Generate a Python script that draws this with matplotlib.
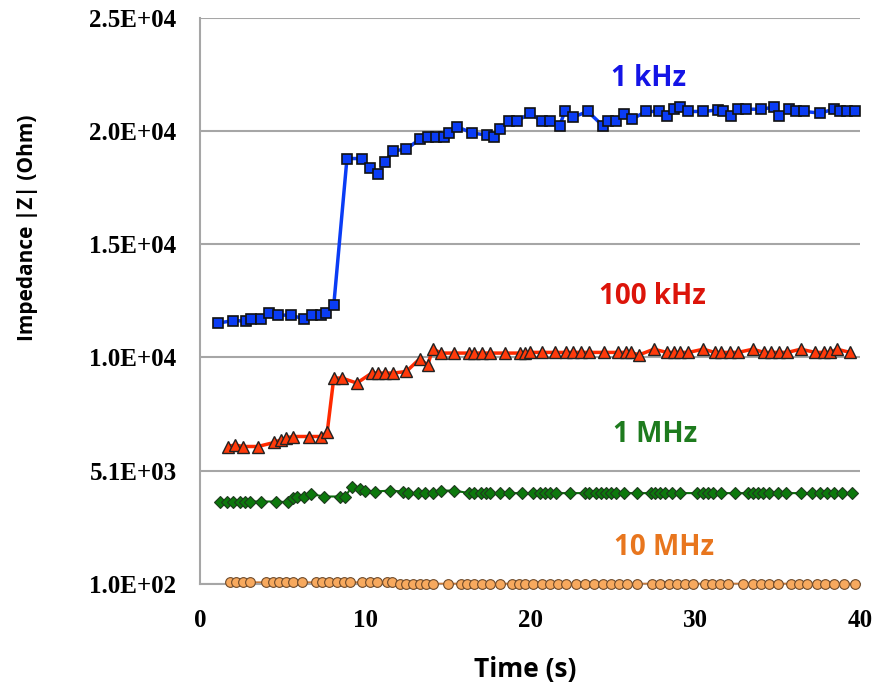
import matplotlib
matplotlib.use("Agg")
from matplotlib import pyplot as plt

# 1 kHz
t_1k = [1.1, 2.0, 2.8, 3.1, 3.7, 4.2, 4.7, 5.5, 6.3, 6.8, 7.3, 7.6, 8.1, 8.9, 9.8, 10.3, 10.8, 11.2,
        11.7, 12.5, 13.3, 13.8, 14.3, 14.8, 15.1, 15.6, 16.5, 17.4, 17.8, 18.2, 18.7, 19.2, 20.0,
        20.7, 21.2, 21.8, 22.1, 22.6, 23.5, 24.4, 24.7, 25.2, 25.7, 26.2, 27.0, 27.8, 28.3, 28.7,
        29.1, 29.6, 30.5, 31.4, 31.7, 32.2, 32.6, 33.1, 34.0, 34.8, 35.1, 35.7, 36.1, 36.6, 37.6,
        38.4, 38.8, 39.2, 39.7]
z_1k = [11570, 11680, 11660, 11750, 11760, 12010, 11920, 11920, 11750, 11920, 11920, 12010, 12360,
        18810, 18810, 18390, 18120, 18650, 19150, 19220, 19660, 19750, 19750, 19750, 19930, 20200,
        19930, 19840, 19750, 20100, 20450, 20450, 20810, 20450, 20450, 20260, 20880, 20630, 20880,
        20260, 20450, 20450, 20750, 20540, 20880, 20880, 20700, 20980, 21070, 20880, 20880, 20950,
        20880, 20700, 20980, 20980, 20980, 21070, 20700, 20980, 20880, 20880, 20810, 20980, 20880,
        20880, 20880]

# 100 kHz
t_100k = [1.7, 2.1, 2.6, 3.5, 4.5, 4.9, 5.2, 5.6, 6.6, 7.3, 7.7, 8.1, 8.6, 9.5, 10.4, 10.8, 11.2,
          11.7, 12.5, 13.3, 13.8, 14.1, 14.6, 15.4, 16.3, 16.6, 17.1, 17.6, 18.5, 19.4, 19.7, 20.0,
          20.7, 21.5, 22.2, 22.6, 23.1, 23.6, 24.5, 25.3, 25.8, 26.1, 26.6, 27.5, 28.3, 28.7, 29.1,
          29.6, 30.5, 31.2, 31.6, 32.1, 32.6, 33.5, 34.2, 34.6, 35.1, 35.6, 36.4, 37.3, 37.8, 38.2,
          38.6, 39.4]
z_100k = [6140, 6210, 6140, 6140, 6320, 6440, 6510, 6580, 6580, 6580, 6760, 9150, 9150, 8930, 9370,
          9370, 9370, 9370, 9440, 9990, 9730, 10440, 10250, 10250, 10250, 10250, 10250, 10250, 10250,
          10250, 10250, 10280, 10280, 10280, 10280, 10280, 10280, 10280, 10280, 10280, 10280, 10280,
          10170, 10420, 10280, 10280, 10280, 10280, 10420, 10280, 10280, 10280, 10280, 10420, 10280,
          10280, 10280, 10280, 10420, 10280, 10280, 10280, 10420, 10280]

# 1 MHz
t_1m = [1.2, 1.6, 2.0, 2.4, 2.7, 3.0, 3.7, 4.6, 5.3, 5.6, 5.9, 6.3, 6.7, 7.5, 8.5, 8.8, 9.2, 9.7,
        10.0, 10.6, 11.5, 12.3, 12.6, 13.2, 13.6, 14.1, 14.6, 15.4, 16.3, 16.6, 17.0, 17.3, 17.6,
        18.2, 18.7, 19.5, 20.2, 20.6, 20.9, 21.2, 21.6, 22.4, 23.3, 23.6, 24.0, 24.3, 24.6, 24.9,
        25.2, 25.7, 26.5, 27.3, 27.6, 27.9, 28.2, 28.6, 29.1, 30.1, 30.5, 30.8, 31.1, 31.6, 32.4,
        33.2, 33.5, 33.8, 34.1, 34.5, 35.0, 35.5, 36.4, 37.1, 37.6, 38.0, 38.4, 38.9, 39.5]
z_1m = [3720, 3720, 3720, 3720, 3720, 3720, 3720, 3720, 3690, 3870, 3940, 3940, 4050, 3940, 3940,
        3940, 4380, 4280, 4200, 4160, 4200, 4160, 4090, 4090, 4090, 4090, 4200, 4200, 4090, 4090,
        4090, 4090, 4090, 4090, 4090, 4090, 4090] + [4090] * 40

# 10 MHz
t_10m = [1.8, 2.2, 2.6, 3.0, 4.0, 4.4, 4.8, 5.2, 5.6, 6.2, 7.0, 7.4, 7.8, 8.3, 8.7, 9.1, 9.8, 10.3,
         10.7, 11.3, 11.6, 12.1, 12.5, 12.9, 13.3, 13.7, 14.1, 15.0, 15.8, 16.2, 16.6, 17.1, 17.6,
         18.2, 18.9, 19.3, 19.7, 20.2, 20.7, 21.2, 21.7, 22.2, 22.8, 23.3, 23.9, 24.4, 24.9, 25.4,
         25.9, 26.5, 27.4, 27.9, 28.4, 28.9, 29.4, 29.9, 30.6, 31.0, 31.5, 32.0, 32.9, 33.5, 34.0,
         34.5, 35.0, 35.8, 36.3, 36.8, 37.4, 37.9, 38.4, 39.0, 39.7]
z_10m = [170] * 21 + [110] * 52

yticks = [100, 5080, 10060, 15040, 20020, 25000]
ytick_labels = ['1.0E+02', '5.1E+03', '1.0E+04', '1.5E+04', '2.0E+04', '2.5E+04']
xticks = [0, 10, 20, 30, 40]

fig = plt.figure(figsize=(8.74, 6.86), dpi=100)
ax = fig.add_axes([0.229, 0.149, 0.755, 0.825])

ax.plot(t_10m, z_10m, color='#C87A3A', lw=1.2, marker='o', ms=7, mfc='#F7A95E',
        mec='#6E4A2A', mew=0.8, clip_on=False, zorder=3)
ax.plot(t_1m, z_1m, color='#0A6E0A', lw=1.5, marker='D', ms=6, mfc='#0C780C',
        mec='#1E3A1E', mew=0.8, clip_on=False, zorder=3)
ax.plot(t_100k, z_100k, color='#FF2A00', lw=2.5, marker='^', ms=8, mfc='#FF3A0A',
        mec='#222222', mew=1.0, clip_on=False, zorder=3)
ax.plot(t_1k, z_1k, color='#0A3CF5', lw=2.5, marker='s', ms=7.5, mfc='#0A3CF5',
        mec='#111111', mew=1.2, clip_on=False, zorder=3)

label_font = dict(family='Open Sans', weight='bold', fontsize=20)
ax.text(27.2, 22350, '1 kHz', color='#1414E6', ha='center', va='center', **label_font)
ax.text(27.4, 12730, '100 kHz', color='#DC140A', ha='center', va='center', **label_font)
ax.text(27.6, 6660, '1 MHz', color='#1E7B1E', ha='center', va='center', **label_font)
ax.text(28.1, 1680, '10 MHz', color='#E8761E', ha='center', va='center', **label_font)

ax.set_xlim(0, 40)
ax.set_ylim(100, 25000)
ax.set_yticks(yticks)
ax.set_yticklabels(ytick_labels)
ax.set_xticks(xticks)
for lbl in ax.get_xticklabels() + ax.get_yticklabels():
    lbl.set_fontfamily('Liberation Serif')
    lbl.set_fontweight('bold')
    lbl.set_fontsize(18)
ax.tick_params(length=0)
ax.tick_params(axis='x', pad=18)
ax.tick_params(axis='y', pad=17)

ax.grid(axis='y', color='#A6A6A6', lw=1.5)
ax.set_axisbelow(True)
for side in ['top', 'right']:
    ax.spines[side].set_visible(False)
for side in ['left', 'bottom']:
    ax.spines[side].set_color('#A6A6A6')
    ax.spines[side].set_linewidth(1.5)

ax.set_xlabel('Time (s)', fontfamily='Open Sans', fontweight='bold', fontsize=19)
ax.set_ylabel('Impedance |Z| (Ohm)', fontfamily='Open Sans', fontweight='bold', fontsize=15)
ax.xaxis.set_label_coords(0.493, -0.128)
ax.yaxis.set_label_coords(-0.245, 0.629)

fig.savefig('out.png', dpi=100)
